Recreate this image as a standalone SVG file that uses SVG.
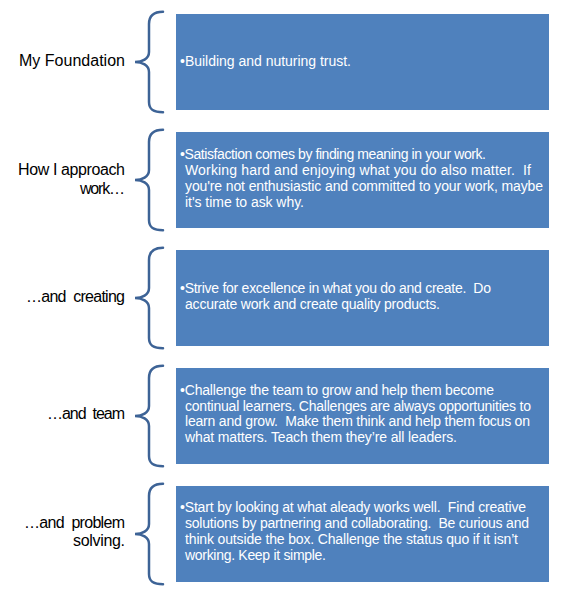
<svg xmlns="http://www.w3.org/2000/svg" width="576" height="602" viewBox="0 0 576 602" xml:space="preserve">
<style>
.box{fill:#4F81BD}
.brace{fill:none;stroke:#3D6396;stroke-width:2.5;stroke-linecap:round}
.lbl{font-family:"Liberation Sans",Arial,sans-serif;font-size:16px;fill:#000;text-anchor:end;white-space:pre}
.txt{font-family:"Liberation Sans",Arial,sans-serif;font-size:14px;fill:#fff;white-space:pre}
</style>
<rect width="576" height="602" fill="#fff"/>
<g id="connectors">
<path class="brace" d="M163,11.7 C154,11.7 149,16 149,24 L149,52 C149,59 142,62 135,62 C142,62 149,65 149,72 L149,102 C149,110 154,112.3 163,112.3"/>
<path class="brace" d="M163,129.7 C154,129.7 149,134 149,142 L149,170 C149,177 142,180 135,180 C142,180 149,183 149,190 L149,220 C149,228 154,230.3 163,230.3"/>
<path class="brace" d="M163,247.7 C154,247.7 149,252 149,260 L149,288 C149,295 142,298 135,298 C142,298 149,301 149,308 L149,338 C149,346 154,348.3 163,348.3"/>
<path class="brace" d="M163,365.7 C154,365.7 149,370 149,378 L149,406 C149,413 142,416 135,416 C142,416 149,419 149,426 L149,456 C149,464 154,466.3 163,466.3"/>
<path class="brace" d="M163,483.7 C154,483.7 149,488 149,496 L149,524 C149,531 142,534 135,534 C142,534 149,537 149,544 L149,574 C149,582 154,584.3 163,584.3"/>
</g>
<g id="node1">
<text class="lbl" x="125" y="66" textLength="106" lengthAdjust="spacing">My Foundation</text>
<rect class="box" x="176" y="14" width="373" height="96"/>
<text class="txt" x="180" y="66" textLength="171" lengthAdjust="spacing">•Building and nuturing trust.</text>
</g>
<g id="node2">
<text class="lbl" x="125" y="175" textLength="107" lengthAdjust="spacing">How I approach</text>
<text class="lbl" x="125" y="194" textLength="45" lengthAdjust="spacing">work…</text>
<rect class="box" x="176" y="132" width="373" height="96"/>
<text class="txt" x="180" y="158.5" textLength="306" lengthAdjust="spacing">•Satisfaction comes by finding meaning in your work.</text>
<text class="txt" x="185" y="174.5" textLength="346" lengthAdjust="spacing">Working hard and enjoying what you do also matter.  If</text>
<text class="txt" x="185" y="190.5" textLength="358" lengthAdjust="spacing">you're not enthusiastic and committed to your work, maybe</text>
<text class="txt" x="185" y="206.5" textLength="119" lengthAdjust="spacing">it's time to ask why.</text>
</g>
<g id="node3">
<text class="lbl" x="125" y="302" textLength="99" lengthAdjust="spacing">…and  creating</text>
<rect class="box" x="176" y="250" width="373" height="96"/>
<text class="txt" x="180" y="293" textLength="311" lengthAdjust="spacing">•Strive for excellence in what you do and create.  Do</text>
<text class="txt" x="185" y="309" textLength="255" lengthAdjust="spacing">accurate work and create quality products.</text>
</g>
<g id="node4">
<text class="lbl" x="125" y="419" textLength="78" lengthAdjust="spacing">…and  team</text>
<rect class="box" x="176" y="368" width="373" height="96"/>
<text class="txt" x="180" y="395" textLength="314" lengthAdjust="spacing">•Challenge the team to grow and help them become</text>
<text class="txt" x="185" y="410.5" textLength="346" lengthAdjust="spacing">continual learners. Challenges are always opportunities to</text>
<text class="txt" x="185" y="426" textLength="345" lengthAdjust="spacing">learn and grow.  Make them think and help them focus on</text>
<text class="txt" x="185" y="442" textLength="272" lengthAdjust="spacing">what matters. Teach them they’re all leaders.</text>
</g>
<g id="node5">
<text class="lbl" x="125" y="527.5" textLength="101" lengthAdjust="spacing">…and  problem</text>
<text class="lbl" x="125" y="546" textLength="52" lengthAdjust="spacing">solving.</text>
<rect class="box" x="176" y="486" width="373" height="96"/>
<text class="txt" x="180" y="511.5" textLength="346" lengthAdjust="spacing">•Start by looking at what aleady works well.  Find creative</text>
<text class="txt" x="185" y="527.5" textLength="344" lengthAdjust="spacing">solutions by partnering and collaborating.  Be curious and</text>
<text class="txt" x="185" y="543.5" textLength="333" lengthAdjust="spacing">think outside the box. Challenge the status quo if it isn’t</text>
<text class="txt" x="185" y="559.5" textLength="141" lengthAdjust="spacing">working. Keep it simple.</text>
</g>
</svg>
